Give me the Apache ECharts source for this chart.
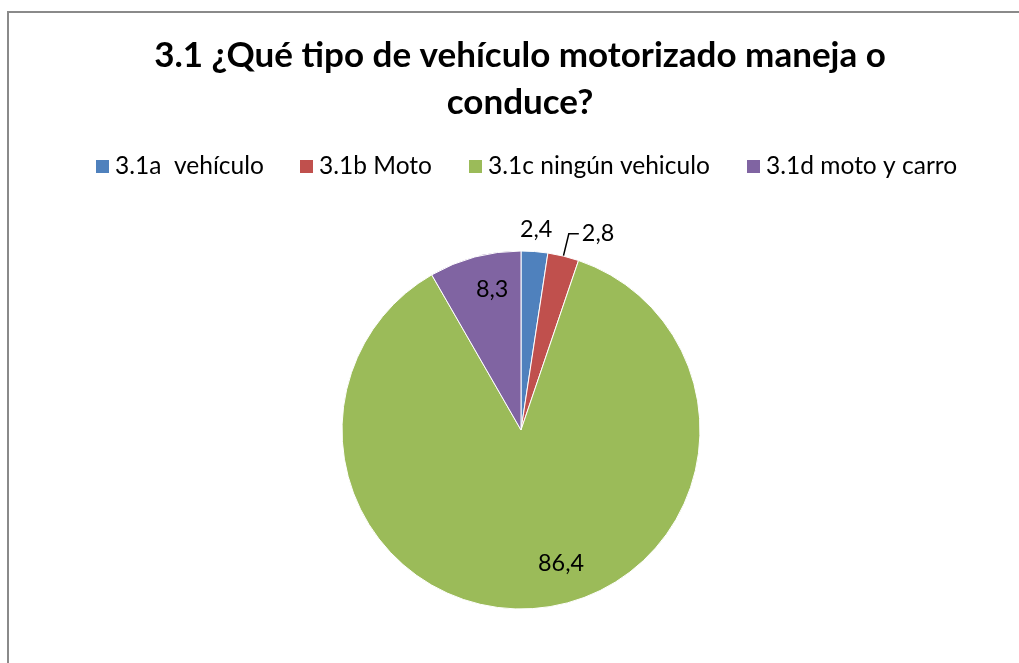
<!DOCTYPE html>
<html>
<head>
<meta charset="utf-8">
<script src="https://cdn.jsdelivr.net/npm/echarts@6/dist/echarts.min.js"></script>
<style>
html,body{margin:0;padding:0;background:#fff;}
#chart{width:1019px;height:663px;}
</style>
</head>
<body>
<div id="chart"></div>
<script>
// ---- data ----
var titleLines = ['3.1 ¿Qué tipo de vehículo motorizado maneja o', 'conduce?'];
var categories = ['3.1a  vehículo', '3.1b Moto', '3.1c ningún vehiculo', '3.1d moto y carro'];
var values = [2.4, 2.8, 86.4, 8.3];
var valueLabels = ['2,4', '2,8', '86,4', '8,3'];
var colors = ['#4F81BD', '#C0504D', '#9BBB59', '#8064A2'];

// ---- font fitting ----
var FAMILY = 'Lato';
var cv = document.createElement('canvas').getContext('2d');
function fit(text, weight, target) {
  cv.font = weight + ' 100px ' + FAMILY;
  return 100 * target / cv.measureText(text).width;
}
var titleSize = fit(titleLines[0], 'bold', 732);
var legendSize = fit(categories[2], 'normal', 222);
var labelSize = fit(valueLabels[2], 'normal', 46);

var legendLefts = [94, 298, 467, 745];
var legends = categories.map(function (c, i) {
  return {
    data: [c], left: legendLefts[i], top: 154, padding: 0,
    icon: 'rect', itemWidth: 15, itemHeight: 15,
    selectedMode: false,
    textStyle: { fontFamily: FAMILY, fontSize: legendSize, color: '#000', lineHeight: 25 }
  };
});

var pieData = categories.map(function (c, i) {
  var item = { name: c, value: values[i], itemStyle: { color: colors[i] } };
  if (i === 0) {
    item.label = { position: 'outside' };
    item.labelLine = { show: false, length: 22, length2: 0 };
  } else if (i === 1) {
    item.label = { position: 'outside' };
    item.labelLine = { show: true, length: 23, length2: 10, lineStyle: { color: '#000', width: 1.5 } };
  } else {
    item.label = { position: 'inside' };
  }
  return item;
});

var chart = echarts.init(document.getElementById('chart'), null, { renderer: 'canvas' });
chart.setOption({
  animation: false,
  backgroundColor: '#fff',
  title: {
    text: titleLines.join('\n'),
    left: 520, top: 32, padding: 0, textAlign: 'center',
    textStyle: { fontFamily: FAMILY, fontWeight: 'bold', fontSize: titleSize, lineHeight: 47, color: '#000' }
  },
  legend: legends,
  graphic: [{
    type: 'rect', silent: true, z: -1,
    shape: { x: 8, y: 12, width: 1200, height: 1000 },
    style: { fill: 'none', stroke: '#8a8a8a', lineWidth: 2 }
  }],
  series: [{
    type: 'pie',
    center: [521, 430],
    radius: 179,
    startAngle: 90,
    clockwise: true,
    avoidLabelOverlap: false,
    itemStyle: { borderColor: '#fff', borderWidth: 1 },
    label: {
      show: true,
      fontFamily: FAMILY, fontSize: labelSize, color: '#000',
      distanceToLabelLine: 3,
      formatter: function (p) { return valueLabels[p.dataIndex]; }
    },
    emphasis: { disabled: true },
    labelLayout: function (p) {
      if (p.dataIndex === 0) return { dx: -(p.labelRect.width / 2 + 3) };
      if (p.dataIndex === 2) return { dx: 31, dy: 41 };
      if (p.dataIndex === 3) return { dx: -5, dy: -51 };
      return {};
    },
    data: pieData
  }]
});
</script>
</body>
</html>
